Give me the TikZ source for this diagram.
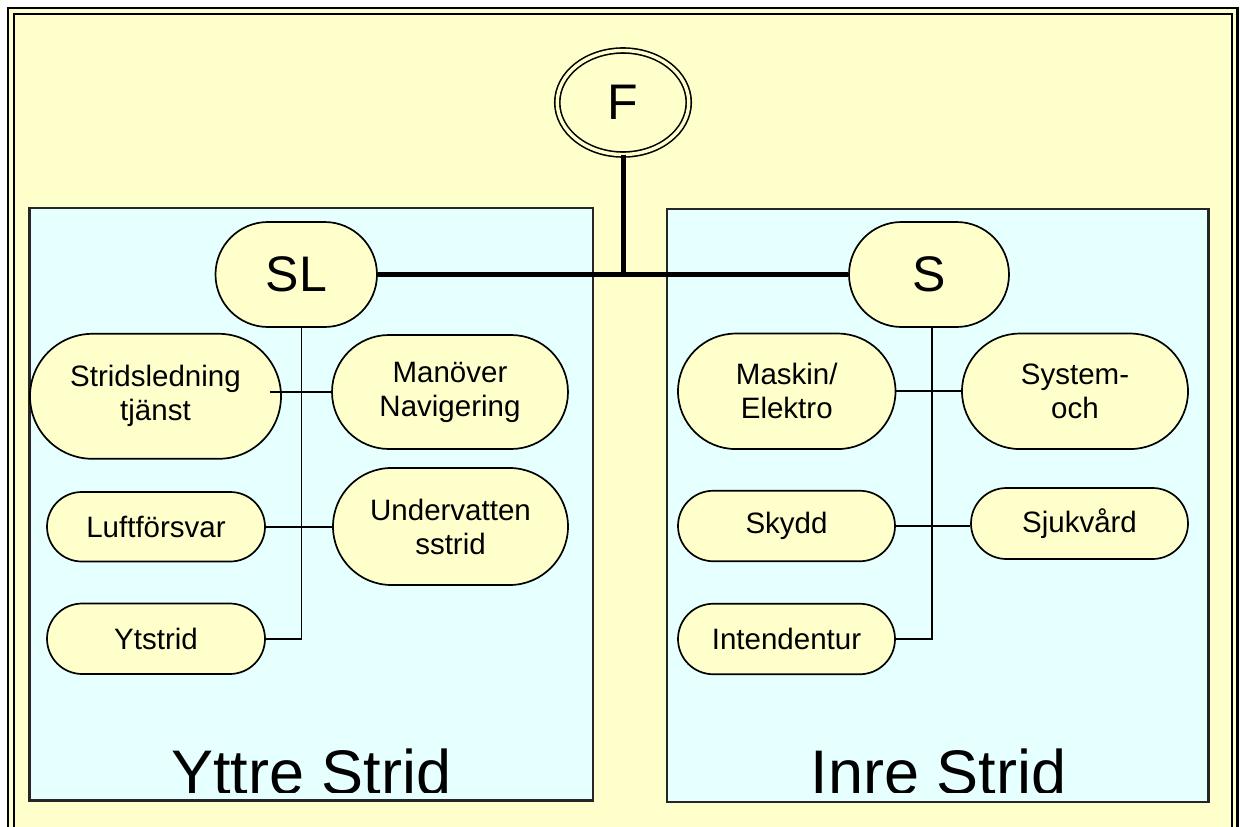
\documentclass[tikz,border=0pt]{standalone}
\usepackage{fontspec}
\setmainfont{Liberation Sans}
\usetikzlibrary{shapes.geometric,shapes.misc}
\definecolor{bgyellow}{HTML}{FFFFCC}
\definecolor{boxcyan}{HTML}{E6FFFF}
\tikzset{
  pill/.style={rounded rectangle, draw=black, fill=bgyellow, line width=1.7pt,
    align=center, inner sep=0pt, font=\fontsize{29.5}{34}\selectfont},
  headfont/.style={font=\fontsize{50}{55}\selectfont},
  area/.style={draw=black!85, line width=2.2pt, fill=boxcyan},
  thicklink/.style={line width=5pt},
  link/.style={line width=1.7pt},
  bigtitle/.style={font=\fontsize{63}{70}\selectfont, anchor=base, inner sep=0pt},
}
\begin{document}
\begin{tikzpicture}[x=1pt,y=-1pt]
\useasboundingbox (0,0) rectangle (1240,827);
\clip (0,0) rectangle (1240,827);
% frame
\fill[white] (0,0) rectangle (1240,827);
\fill[bgyellow] (8,8) rectangle (1237.5,850);
\draw[line width=2.5pt] (8,8) rectangle (1237.5,850);
\draw[line width=2pt] (13.5,13.5) rectangle (1231.5,850);
% areas
\draw[area] (29.5,208) rectangle (593,800.5);
\draw[area] (667,209) rectangle (1208.5,802);
% titles
\begin{scope}
\clip (0,0) rectangle (1240,792);
\node[bigtitle] (yttre) at (311.5,794) {Yttre Strid};
\node[bigtitle] (inre) at (938.5,794) {Inre Strid};
\end{scope}
% top node
\node[ellipse, draw=black, line width=1.6pt, double=bgyellow, double distance=3.4pt,
  fill=bgyellow, minimum width=131.5pt, minimum height=104pt, inner sep=0pt, headfont]
  (F) at (623,102.5) {F};
\node[pill, minimum width=161.5pt, minimum height=105pt, headfont] (SL) at (296.25,274.5) {SL};
\node[pill, minimum width=160pt, minimum height=105pt, headfont] (S) at (929,274.5) {S};
% left nodes
\node[pill, minimum width=251pt, minimum height=125pt] (Strid) at (155.5,396.3) {Stridsledning\\tjänst};
\node[pill, minimum width=236pt, minimum height=114pt] (Man) at (450,392) {Manöver\\Navigering};
\node[pill, minimum width=218pt, minimum height=69.5pt] (Luft) at (156,526.75) {Luftförsvar};
\node[pill, minimum width=235pt, minimum height=117pt] (Under) at (450.5,526.5) {Undervatten\\sstrid};
\node[pill, minimum width=218pt, minimum height=70.5pt] (Yt) at (156,638.75) {Ytstrid};
% right nodes
\node[pill, minimum width=217.5pt, minimum height=115.5pt] (Mask) at (786.75,391.3) {Maskin/\\Elektro};
\node[pill, minimum width=226pt, minimum height=115.5pt] (Sys) at (1075,391.3) {System-\\och};
\node[pill, minimum width=217pt, minimum height=70.5pt] (Sky) at (786.5,526) {Skydd};
\node[pill, minimum width=217pt, minimum height=71pt] (Sjuk) at (1079.5,523.5) {Sjukvård};
\node[pill, minimum width=217pt, minimum height=70.5pt] (Int) at (786.5,639) {Intendentur};
% connectors
\draw[thicklink] (F.south) -- (F.south |- SL.east);
\draw[thicklink] (SL.east) -- (S.west);
\coordinate (sltrunk) at (301.5,327);
\coordinate (strunk) at (932,327);
\draw[link] (sltrunk) |- (Yt.east);
\draw[link] (strunk) |- (Int.east);
\draw[link] ([xshift=-12pt]Strid.east |- Man.west) -- (Man.west);
\draw[link] (Luft.east) -- (Under.west |- Luft.east);
\draw[link] (Mask.east) -- (Sys.west);
\draw[link] (Sky.east) -- (Sky.east -| Sjuk.west);
\end{tikzpicture}
\end{document}
